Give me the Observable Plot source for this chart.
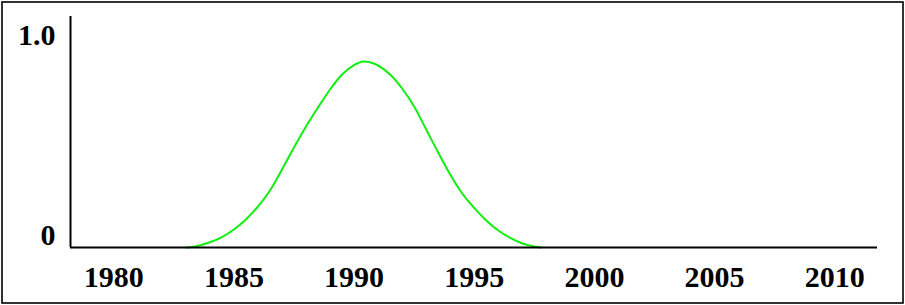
<!DOCTYPE html>
<html>
<head>
<meta charset="utf-8">
<script src="https://cdn.jsdelivr.net/npm/d3@7"></script>
<script src="https://cdn.jsdelivr.net/npm/@observablehq/plot@0.6"></script>
<style>
  html, body { margin: 0; padding: 0; background: #fff; }
  #chart { width: 905px; height: 305px; }
</style>
</head>
<body>
<div id="chart"></div>
<script>
// Data
const years = [1983.0, 1983.5, 1984.0, 1984.5, 1985.0, 1985.5, 1986.0, 1986.5, 1987.0, 1987.5,
               1988.0, 1988.5, 1989.0, 1989.5, 1990.0, 1990.4, 1991.0, 1991.5, 1992.0, 1992.5,
               1993.0, 1993.5, 1994.0, 1994.5, 1995.0, 1995.5, 1996.0, 1996.5, 1997.0, 1997.5, 1997.8];
const values = [0.0, 0.008, 0.026, 0.052, 0.09, 0.14, 0.205, 0.285, 0.39, 0.50,
                0.605, 0.70, 0.79, 0.865, 0.912, 0.93, 0.91, 0.865, 0.795, 0.705,
                0.59, 0.475, 0.365, 0.27, 0.198, 0.135, 0.085, 0.048, 0.02, 0.005, 0.0];
const xTicks = [1980, 1985, 1990, 1995, 2000, 2005, 2010];
const yTicks = [0, 1];
const yTickLabels = ["0", "1.0"];
const xDomain = [1978.2, 2011.78];
const yDomain = [0, 1.155];

const data = years.map((year, i) => ({year, value: values[i]}));
const font = "'Liberation Serif', 'Times New Roman', serif";

const chart = Plot.plot({
  width: 905,
  height: 305,
  marginLeft: 70,
  marginRight: 28,
  marginTop: 16,
  marginBottom: 58,
  style: {background: "#fff", fontFamily: font, color: "#000"},
  x: {domain: xDomain},
  y: {domain: yDomain},
  marks: [
    Plot.line(data, {x: "year", y: "value", stroke: "#11ee11", strokeWidth: 2, curve: "monotone-x"}),
    Plot.ruleY([yDomain[0]], {stroke: "#000", strokeWidth: 2}),
    Plot.ruleX([xDomain[0]], {stroke: "#000", strokeWidth: 2}),
    Plot.axisX({ticks: xTicks, tickFormat: d => String(d), tickSize: 0, tickPadding: 17.7,
                fontSize: 30, fontWeight: "bold", label: null}),
    Plot.axisY({ticks: yTicks, tickFormat: d => yTickLabels[yTicks.indexOf(d)], tickSize: 0, tickPadding: 15,
                fontSize: 30, fontWeight: "bold", dy: -12.6, label: null})
  ]
});

d3.select(chart).append("rect")
  .attr("x", 2).attr("y", 2).attr("width", 901).attr("height", 301)
  .attr("fill", "none").attr("stroke", "#000").attr("stroke-width", 1.6);

document.getElementById("chart").appendChild(chart);
</script>
</body>
</html>
